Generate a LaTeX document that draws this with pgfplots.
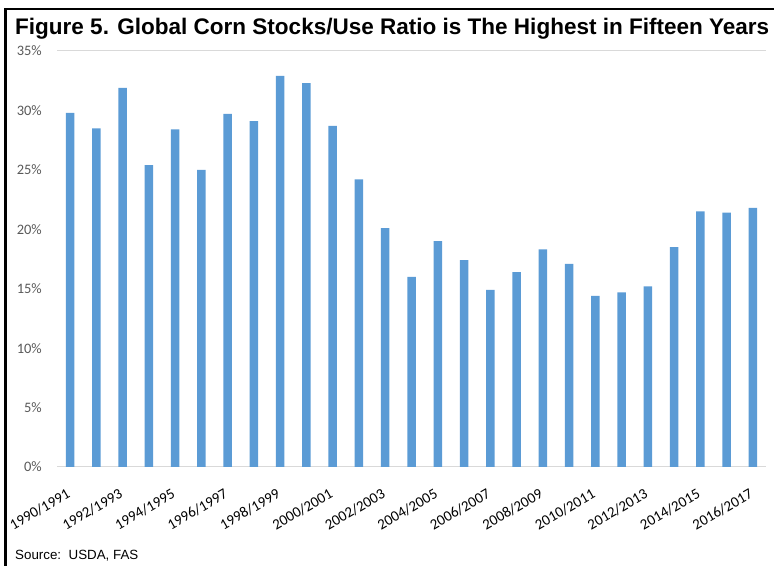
\documentclass[border=0pt]{standalone}
\usepackage{fontspec}
\setmainfont{Liberation Sans}
\newfontfamily\carlito{Carlito}
\usepackage{pgfplots}
\pgfplotsset{compat=1.18}
\definecolor{barblue}{HTML}{5B9BD5}
\definecolor{gridgray}{HTML}{D9D9D9}
\definecolor{labelgray}{HTML}{595959}

\begin{document}
\begin{tikzpicture}
\useasboundingbox (0,0) rectangle (774bp,566bp);
% outer frame (top and left edges)
\draw[line width=2.5bp, black] (5.5bp,0) -- (5.5bp,557bp) -- (774bp,557bp);
% title and source note
\node[anchor=base west, inner sep=0pt, font=\fontsize{22.6}{26}\selectfont\bfseries] at (15bp,531bp)
  {Figure 5. Global Corn Stocks/Use Ratio is The Highest in Fifteen Years};
\node[anchor=base west, inner sep=0pt, font=\fontsize{13.4}{15}\selectfont] at (15bp,7bp)
  {Source:\ \ USDA, FAS};
\begin{axis}[
  at={(57bp,99bp)}, anchor=south west,
  scale only axis, width=709bp, height=416bp,
  ybar, bar width=8.5bp,
  xmin=-0.5, xmax=26.5, ymin=0, ymax=35,
  axis line style={draw=none},
  major tick length=0pt,
  ytick={0,5,...,35},
  yticklabel={\pgfmathprintnumber{\tick}\%},
  yticklabel style={font=\carlito\fontsize{14.5}{16}\selectfont, text=labelgray, anchor=east, inner sep=0pt, xshift=-15bp},
  /pgf/number format/assume math mode=true,
  extra y ticks={0,35},
  extra y tick labels={},
  extra y tick style={ymajorgrids=true, major grid style={color=gridgray, line width=1bp}},
  xtick={0,2,...,26},
  xticklabels={1990/1991,1992/1993,1994/1995,1996/1997,1998/1999,2000/2001,2002/2003,2004/2005,2006/2007,2008/2009,2010/2011,2012/2013,2014/2015,2016/2017},
  xticklabel style={font=\carlito\fontsize{15}{17}\selectfont, inner sep=0pt, xshift=1bp, yshift=-30bp, rotate=30, anchor=base east},
  clip=false,
]
\addplot[fill=barblue, draw=none] coordinates {
  (0,29.8) (1,28.5) (2,31.9) (3,25.4) (4,28.4) (5,25.0) (6,29.7)
  (7,29.1) (8,32.9) (9,32.3) (10,28.7) (11,24.2) (12,20.1) (13,16.0)
  (14,19.0) (15,17.4) (16,14.9) (17,16.4) (18,18.3) (19,17.1) (20,14.4)
  (21,14.7) (22,15.2) (23,18.5) (24,21.5) (25,21.4) (26,21.8)
};
\end{axis}
\end{tikzpicture}
\end{document}
